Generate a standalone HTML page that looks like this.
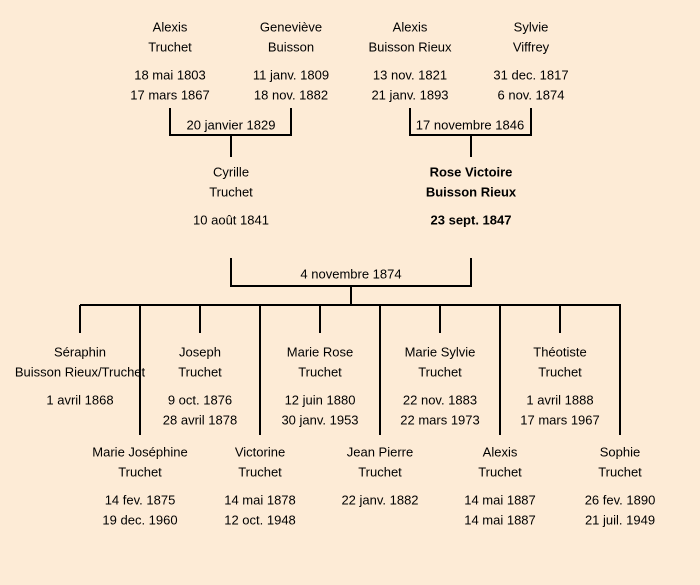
<!DOCTYPE html>
<html><head><meta charset="utf-8"><style>
html,body{margin:0;padding:0;background:#fdebd6;}
svg{display:block}
text{font-family:"Liberation Sans","DejaVu Sans",sans-serif;font-size:13px;fill:#000;text-anchor:middle;dominant-baseline:central}
.b{font-weight:bold}
</style></head><body>
<svg width="700" height="585" viewBox="0 0 700 585">
<rect width="700" height="585" fill="#fdebd6"/>
<g stroke="#000" stroke-width="2" fill="none">
<path d="M170 108V135H291V108M231 135V157"/>
<path d="M410 108V135H531V108M471 135V157"/>
<path d="M231 258V286H471V258M351 286V305"/>
<path d="M80 305H621"/>
<path d="M80 305V333M200 305V333M320 305V333M440 305V333M560 305V333"/>
<path d="M140 305V435M260 305V435M380 305V435M500 305V435M620 305V435"/>
</g>
<text x="170" y="27">Alexis</text><text x="170" y="47">Truchet</text><text x="170" y="75">18 mai 1803</text><text x="170" y="95">17 mars 1867</text>
<text x="291" y="27">Geneviève</text><text x="291" y="47">Buisson</text><text x="291" y="75">11 janv. 1809</text><text x="291" y="95">18 nov. 1882</text>
<text x="410" y="27">Alexis</text><text x="410" y="47">Buisson Rieux</text><text x="410" y="75">13 nov. 1821</text><text x="410" y="95">21 janv. 1893</text>
<text x="531" y="27">Sylvie</text><text x="531" y="47">Viffrey</text><text x="531" y="75">31 dec. 1817</text><text x="531" y="95">6 nov. 1874</text>
<text x="231" y="125">20 janvier 1829</text>
<text x="470" y="125">17 novembre 1846</text>
<text x="231" y="172">Cyrille</text><text x="231" y="192">Truchet</text><text x="231" y="220">10 août 1841</text>
<text class="b" x="471" y="172">Rose Victoire</text><text class="b" x="471" y="192">Buisson Rieux</text><text class="b" x="471" y="220">23 sept. 1847</text>
<text x="351" y="274">4 novembre 1874</text>
<text x="80" y="352">Séraphin</text><text x="80" y="372">Buisson Rieux/Truchet</text><text x="80" y="400">1 avril 1868</text>
<text x="200" y="352">Joseph</text><text x="200" y="372">Truchet</text><text x="200" y="400">9 oct. 1876</text><text x="200" y="420">28 avril 1878</text>
<text x="320" y="352">Marie Rose</text><text x="320" y="372">Truchet</text><text x="320" y="400">12 juin 1880</text><text x="320" y="420">30 janv. 1953</text>
<text x="440" y="352">Marie Sylvie</text><text x="440" y="372">Truchet</text><text x="440" y="400">22 nov. 1883</text><text x="440" y="420">22 mars 1973</text>
<text x="560" y="352">Théotiste</text><text x="560" y="372">Truchet</text><text x="560" y="400">1 avril 1888</text><text x="560" y="420">17 mars 1967</text>
<text x="140" y="452">Marie Joséphine</text><text x="140" y="472">Truchet</text><text x="140" y="500">14 fev. 1875</text><text x="140" y="520">19 dec. 1960</text>
<text x="260" y="452">Victorine</text><text x="260" y="472">Truchet</text><text x="260" y="500">14 mai 1878</text><text x="260" y="520">12 oct. 1948</text>
<text x="380" y="452">Jean Pierre</text><text x="380" y="472">Truchet</text><text x="380" y="500">22 janv. 1882</text>
<text x="500" y="452">Alexis</text><text x="500" y="472">Truchet</text><text x="500" y="500">14 mai 1887</text><text x="500" y="520">14 mai 1887</text>
<text x="620" y="452">Sophie</text><text x="620" y="472">Truchet</text><text x="620" y="500">26 fev. 1890</text><text x="620" y="520">21 juil. 1949</text>
</svg>
</body></html>
